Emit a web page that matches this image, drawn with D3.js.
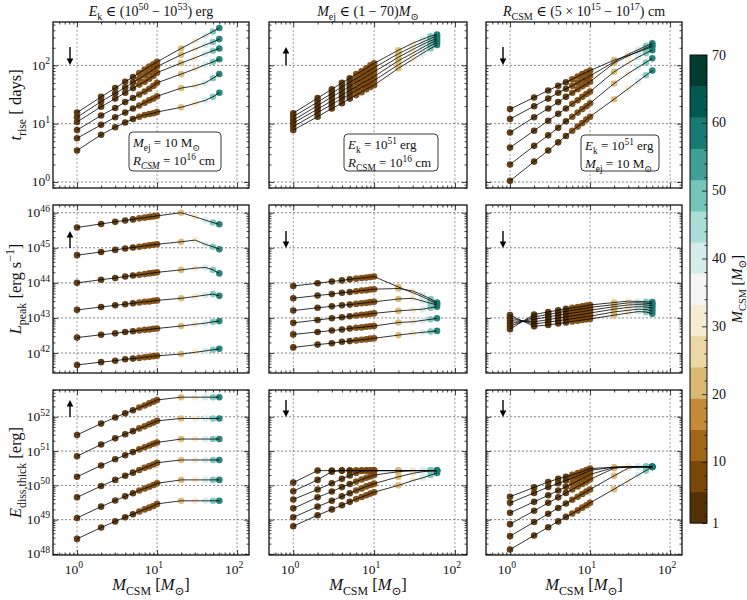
<!DOCTYPE html>
<html>
<head>
<meta charset="utf-8">
<script src="https://cdn.jsdelivr.net/npm/d3@7"></script>
<style>
body { margin: 0; background: #fff; }
svg text { font-family: "Liberation Serif", "DejaVu Serif", serif; fill: #111; white-space: pre; }
</style>
</head>
<body>
<div id="chart"></div>
<script>
const width = 747;
const height = 600;

// CSM masses of the models (x values)
const mcsm = [1, 2, 3, 4, 5, 6, 7, 8, 9, 10, 20, 30, 40, 50, 60];

// all values below are log10 of the plotted quantity, one row per model line
// t_rise [days]
const tRiseEk = [
  [1.19, 1.46, 1.61, 1.72, 1.80, 1.87, 1.93, 1.98, 2.02, 2.06, 2.29, 2.42, 2.51, 2.58, 2.64],
  [1.11, 1.38, 1.52, 1.62, 1.71, 1.77, 1.83, 1.88, 1.93, 1.98, 2.18, 2.28, 2.35, 2.40, 2.45],
  [1.03, 1.29, 1.43, 1.53, 1.61, 1.67, 1.72, 1.77, 1.82, 1.875, 2.04, 2.13, 2.20, 2.25, 2.29],
  [0.89, 1.14, 1.27, 1.37, 1.44, 1.50, 1.55, 1.60, 1.65, 1.70, 1.85, 1.94, 2.01, 2.06, 2.105],
  [0.75, 0.98, 1.11, 1.19, 1.26, 1.31, 1.36, 1.40, 1.43, 1.47, 1.61, 1.65, 1.70, 1.78, 1.85],
  [0.54, 0.81, 0.94, 1.02, 1.08, 1.12, 1.15, 1.165, 1.18, 1.20, 1.28, 1.35, 1.40, 1.46, 1.53]
];
const tRiseMej = [
  [1.18, 1.44, 1.59, 1.70, 1.78, 1.85, 1.90, 1.95, 2.00, 2.035, 2.26, 2.38, 2.45, 2.50, 2.53],
  [1.12, 1.37, 1.52, 1.63, 1.71, 1.77, 1.83, 1.88, 1.92, 1.96, 2.20, 2.32, 2.40, 2.46, 2.50],
  [1.06, 1.31, 1.46, 1.56, 1.64, 1.71, 1.76, 1.81, 1.85, 1.89, 2.14, 2.27, 2.36, 2.42, 2.46],
  [1.01, 1.25, 1.39, 1.49, 1.57, 1.63, 1.69, 1.73, 1.77, 1.81, 2.08, 2.21, 2.31, 2.38, 2.43],
  [0.95, 1.19, 1.33, 1.43, 1.50, 1.57, 1.62, 1.66, 1.70, 1.74, 2.01, 2.16, 2.26, 2.34, 2.39],
  [0.89, 1.12, 1.26, 1.35, 1.43, 1.49, 1.54, 1.59, 1.63, 1.66, 1.95, 2.10, 2.21, 2.29, 2.35]
];
const tRiseRcsm = [
  [1.25, 1.45, 1.57, 1.65, 1.71, 1.76, 1.81, 1.85, 1.88, 1.91, 2.09, 2.17, 2.23, 2.28, 2.32],
  [1.08, 1.30, 1.43, 1.53, 1.60, 1.65, 1.70, 1.75, 1.78, 1.82, 2.06, 2.19, 2.27, 2.33, 2.38],
  [0.85, 1.11, 1.26, 1.37, 1.46, 1.53, 1.59, 1.64, 1.68, 1.72, 2.04, 2.16, 2.24, 2.30, 2.35],
  [0.59, 0.88, 1.05, 1.17, 1.26, 1.34, 1.40, 1.46, 1.51, 1.55, 1.89, 2.04, 2.14, 2.21, 2.26],
  [0.30, 0.62, 0.80, 0.93, 1.04, 1.12, 1.19, 1.25, 1.30, 1.35, 1.69, 1.86, 1.97, 2.05, 2.12],
  [0.02, 0.35, 0.54, 0.68, 0.79, 0.88, 0.95, 1.01, 1.07, 1.12, 1.42, 1.60, 1.73, 1.83, 1.91]
];
// L_peak [erg/s]
const lPeakEk = [
  [45.58, 45.68, 45.74, 45.78, 45.81, 45.84, 45.86, 45.88, 45.895, 45.91, 46.00, 45.88, 45.79, 45.72, 45.67],
  [44.79, 44.88, 44.94, 44.98, 45.01, 45.03, 45.05, 45.07, 45.085, 45.10, 45.17, 45.22, 45.10, 45.03, 44.96],
  [44.00, 44.09, 44.14, 44.18, 44.21, 44.23, 44.25, 44.27, 44.285, 44.30, 44.37, 44.42, 44.44, 44.37, 44.27],
  [43.23, 43.31, 43.36, 43.39, 43.42, 43.44, 43.46, 43.47, 43.49, 43.50, 43.56, 43.61, 43.65, 43.68, 43.63],
  [42.44, 42.52, 42.56, 42.60, 42.62, 42.64, 42.66, 42.67, 42.69, 42.70, 42.77, 42.82, 42.85, 42.89, 42.91],
  [41.66, 41.74, 41.78, 41.82, 41.84, 41.86, 41.88, 41.89, 41.91, 41.92, 41.97, 42.02, 42.06, 42.09, 42.12]
];
const lPeakMej = [
  [43.91, 43.99, 44.04, 44.07, 44.10, 44.12, 44.14, 44.15, 44.165, 44.18, 43.88, 43.72, 43.60, 43.49, 43.41],
  [43.56, 43.64, 43.68, 43.72, 43.74, 43.76, 43.78, 43.79, 43.81, 43.82, 43.84, 43.77, 43.65, 43.54, 43.44],
  [43.21, 43.29, 43.33, 43.36, 43.38, 43.40, 43.42, 43.43, 43.45, 43.46, 43.54, 43.56, 43.48, 43.42, 43.37],
  [42.86, 42.94, 42.99, 43.02, 43.05, 43.07, 43.09, 43.10, 43.12, 43.13, 43.20, 43.23, 43.25, 43.29, 43.32],
  [42.53, 42.60, 42.64, 42.67, 42.70, 42.72, 42.73, 42.75, 42.76, 42.77, 42.87, 42.89, 42.93, 42.96, 42.99],
  [42.16, 42.24, 42.28, 42.32, 42.34, 42.36, 42.38, 42.39, 42.41, 42.42, 42.51, 42.56, 42.59, 42.61, 42.63]
];
const lPeakRcsm = [
  [42.68, 43.10, 43.17, 43.22, 43.26, 43.29, 43.31, 43.33, 43.35, 43.37, 43.44, 43.48, 43.47, 43.46, 43.45],
  [42.76, 43.03, 43.10, 43.15, 43.19, 43.22, 43.24, 43.26, 43.28, 43.30, 43.38, 43.43, 43.43, 43.42, 43.40],
  [42.84, 42.96, 43.03, 43.08, 43.11, 43.14, 43.16, 43.18, 43.20, 43.22, 43.32, 43.37, 43.38, 43.37, 43.35],
  [42.92, 42.89, 42.95, 43.00, 43.03, 43.06, 43.08, 43.10, 43.12, 43.14, 43.25, 43.30, 43.32, 43.31, 43.28],
  [43.00, 42.83, 42.88, 42.92, 42.95, 42.98, 43.00, 43.02, 43.04, 43.05, 43.17, 43.22, 43.25, 43.24, 43.20],
  [43.08, 42.76, 42.80, 42.84, 42.87, 42.90, 42.92, 42.94, 42.96, 42.97, 43.08, 43.14, 43.18, 43.17, 43.12]
];
// E_diss,thick [erg]
const eDissEk = [
  [51.47, 51.80, 51.98, 52.10, 52.19, 52.27, 52.33, 52.39, 52.44, 52.49, 52.57, 52.57, 52.57, 52.57, 52.57],
  [50.85, 51.19, 51.37, 51.49, 51.58, 51.66, 51.72, 51.78, 51.83, 51.88, 51.95, 51.95, 51.95, 51.95, 51.95],
  [50.25, 50.58, 50.76, 50.88, 50.97, 51.05, 51.11, 51.16, 51.21, 51.25, 51.35, 51.35, 51.35, 51.35, 51.35],
  [49.65, 49.98, 50.16, 50.28, 50.37, 50.45, 50.51, 50.56, 50.61, 50.66, 50.74, 50.74, 50.74, 50.74, 50.74],
  [49.05, 49.38, 49.56, 49.68, 49.77, 49.85, 49.91, 49.96, 50.01, 50.06, 50.16, 50.16, 50.16, 50.16, 50.16],
  [48.44, 48.77, 48.95, 49.07, 49.16, 49.24, 49.30, 49.35, 49.40, 49.46, 49.55, 49.55, 49.55, 49.55, 49.55]
];
const eDissMej = [
  [50.08, 50.43, 50.43, 50.43, 50.43, 50.43, 50.43, 50.43, 50.43, 50.43, 50.43, 50.43, 50.43, 50.43, 50.43],
  [49.83, 50.16, 50.40, 50.43, 50.43, 50.43, 50.43, 50.43, 50.43, 50.43, 50.43, 50.43, 50.43, 50.43, 50.43],
  [49.59, 49.88, 50.06, 50.19, 50.29, 50.36, 50.42, 50.43, 50.43, 50.43, 50.43, 50.43, 50.43, 50.43, 50.43],
  [49.33, 49.65, 49.82, 49.95, 50.04, 50.11, 50.17, 50.22, 50.26, 50.30, 50.40, 50.43, 50.43, 50.43, 50.43],
  [49.07, 49.38, 49.55, 49.68, 49.77, 49.85, 49.91, 49.97, 50.01, 50.05, 50.25, 50.35, 50.40, 50.42, 50.43],
  [48.81, 49.13, 49.30, 49.42, 49.52, 49.60, 49.66, 49.71, 49.76, 49.80, 50.00, 50.14, 50.22, 50.30, 50.36]
];
const eDissRcsm = [
  [49.67, 49.94, 50.10, 50.19, 50.25, 50.31, 50.36, 50.40, 50.45, 50.49, 50.53, 50.54, 50.54, 50.54, 50.54],
  [49.49, 49.78, 49.95, 50.06, 50.14, 50.21, 50.27, 50.33, 50.38, 50.44, 50.53, 50.54, 50.54, 50.54, 50.54],
  [49.20, 49.52, 49.71, 49.85, 49.96, 50.05, 50.13, 50.20, 50.26, 50.32, 50.52, 50.54, 50.54, 50.54, 50.54],
  [48.87, 49.26, 49.49, 49.65, 49.78, 49.88, 49.97, 50.04, 50.11, 50.175, 50.50, 50.54, 50.54, 50.54, 50.54],
  [48.52, 48.93, 49.17, 49.34, 49.47, 49.58, 49.67, 49.75, 49.82, 49.88, 50.28, 50.50, 50.54, 50.54, 50.54],
  [48.13, 48.54, 48.78, 48.95, 49.08, 49.18, 49.27, 49.35, 49.42, 49.49, 49.89, 50.13, 50.30, 50.43, 50.54]
];

// axis ticks (exponents of 10)
const xTickExp = [0, 1, 2];
const yTickExp = [[0, 1, 2], [42, 43, 44, 45, 46], [48, 49, 50, 51, 52]];
const cbTicks = [1, 10, 20, 30, 40, 50, 60, 70];

// BrBG, 15 discrete levels between 1 and 70
const brbg = ["#543005", "#8c510a", "#bf812d", "#dfc27d", "#f6e8c3", "#f5f5f5",
              "#c7eae5", "#80cdc1", "#35978f", "#01665e", "#003c30"];
const nLevels = 15;
const cmap = d3.scaleLinear().domain(d3.range(11).map(i => i / 10)).range(brbg).interpolate(d3.interpolateRgb);
const levelColors = d3.range(nLevels).map(i => cmap(i / (nLevels - 1)));
const cmin = 1, cmax = 70;
function colorFor(m) {
  const i = Math.min(nLevels - 1, Math.floor((m - cmin) / (cmax - cmin) * nLevels));
  return levelColors[i];
}

const serif = "'Liberation Serif', 'DejaVu Serif', serif";
const svg = d3.select("#chart").append("svg")
  .attr("width", width)
  .attr("height", height)
  .attr("font-family", serif);

// small helper for math-like labels: [text, kind] with kind in "", i, sub, isub, sup
function rich(t, parts, fs) {
  let shift = 0;
  t.attr("font-family", serif).attr("font-size", fs);
  parts.forEach(([s, k]) => {
    const ts = t.append("tspan").text(s);
    let target = 0, size = fs;
    if (k === "sub" || k === "isub") { target = fs * 0.3; size = fs * 0.72; }
    if (k === "sup") { target = -fs * 0.42; size = fs * 0.72; }
    ts.attr("dy", target - shift).attr("font-size", size);
    if (k === "i" || k === "isub") ts.attr("font-style", "italic");
    shift = target;
  });
  return t;
}

const cols = [[53, 249], [269, 467], [486, 682]];
const rows = [[22, 188], [205, 373], [390, 555]];
const yDomains = [[0.789, 554], [Math.pow(10, 41.43), Math.pow(10, 46.22)], [Math.pow(10, 47.97), Math.pow(10, 52.78)]];
const arrowY = [[47, 65], [231, 248], [400, 417]];

const titles = [
  [["E", "i"], ["k", "sub"], [" ∈ (10", ""], ["50", "sup"], [" − 10", ""], ["53", "sup"], [") erg", ""]],
  [["M", "i"], ["ej", "sub"], [" ∈ (1 − 70)", ""], ["M", "i"], ["⊙", "sub"]],
  [["R", "i"], ["CSM", "sub"], [" ∈ (5 × 10", ""], ["15", "sup"], [" − 10", ""], ["17", "sup"], [") cm", ""]]
];
const yLabels = [
  [["t", "i"], ["rise", "sub"], [" [ days]", ""]],
  [["L", "i"], ["peak", "sub"], [" [erg s", ""], ["−1", "sup"], ["]", ""]],
  [["E", "i"], ["diss,thick", "sub"], [" [erg]", ""]]
];
const xLabel = [["M", "i"], ["CSM", "sub"], [" [", ""], ["M", "i"], ["⊙", "sub"], ["]", ""]];

const panels = [
  { r: 0, c: 0, data: tRiseEk, dir: "down",
    box: { x: 76, y: 110, w: 92, h: 39, lines: [
      [["M", "i"], ["ej", "sub"], [" = 10 M", ""], ["⊙", "sub"]],
      [["R", "i"], ["CSM", "isub"], [" = 10", ""], ["16", "sup"], [" cm", ""]]] } },
  { r: 0, c: 1, data: tRiseMej, dir: "up",
    box: { x: 75, y: 112, w: 94, h: 37, lines: [
      [["E", "i"], ["k", "sub"], [" = 10", ""], ["51", "sup"], [" erg", ""]],
      [["R", "i"], ["CSM", "sub"], [" = 10", ""], ["16", "sup"], [" cm", ""]]] } },
  { r: 0, c: 2, data: tRiseRcsm, dir: "down",
    box: { x: 95, y: 113, w: 78, h: 36, lines: [
      [["E", "i"], ["k", "sub"], [" = 10", ""], ["51", "sup"], [" erg", ""]],
      [["M", "i"], ["ej", "sub"], [" = 10 M", ""], ["⊙", "sub"]]] } },
  { r: 1, c: 0, data: lPeakEk, dir: "up" },
  { r: 1, c: 1, data: lPeakMej, dir: "down" },
  { r: 1, c: 2, data: lPeakRcsm, dir: "down" },
  { r: 2, c: 0, data: eDissEk, dir: "up" },
  { r: 2, c: 1, data: eDissMej, dir: "down" },
  { r: 2, c: 2, data: eDissRcsm, dir: "down" }
];

function logMinors(lo, hi) {
  const out = [];
  for (let e = Math.floor(Math.log10(lo)) - 1; e <= Math.ceil(Math.log10(hi)); e++) {
    for (let k = 2; k <= 9; k++) {
      const v = k * Math.pow(10, e);
      if (v > lo * 1.001 && v < hi / 1.001) out.push(v);
    }
  }
  return out;
}

panels.forEach((p, idx) => {
  const [x0, x1] = cols[p.c];
  const [y0, y1] = rows[p.r];
  const x = d3.scaleLog().domain([0.501, 141]).range([x0, x1]);
  const y = d3.scaleLog().domain(yDomains[p.r]).range([y1, y0]);
  const g = svg.append("g");

  g.append("clipPath").attr("id", "clip" + idx)
    .append("rect").attr("x", x0).attr("y", y0).attr("width", x1 - x0).attr("height", y1 - y0);

  const xMaj = xTickExp.map(e => Math.pow(10, e));
  const yMaj = yTickExp[p.r].map(e => Math.pow(10, e));

  // grid
  g.selectAll(".gx").data(xMaj).enter().append("line")
    .attr("x1", d => x(d)).attr("x2", d => x(d)).attr("y1", y0).attr("y2", y1)
    .attr("stroke", "#777").attr("stroke-width", 0.7).attr("stroke-dasharray", "2.2,1.8");
  g.selectAll(".gy").data(yMaj).enter().append("line")
    .attr("x1", x0).attr("x2", x1).attr("y1", d => y(d)).attr("y2", d => y(d))
    .attr("stroke", "#555").attr("stroke-width", 0.7).attr("stroke-dasharray", "2.2,1.8");

  // inward ticks on all four sides
  const xMin = logMinors(0.501, 141), yMin = logMinors(yDomains[p.r][0], yDomains[p.r][1]);
  g.append("g").attr("transform", `translate(0,${y1})`)
    .call(d3.axisBottom(x).tickValues(xMaj).tickSize(-5).tickFormat(""));
  g.append("g").attr("transform", `translate(0,${y1})`)
    .call(d3.axisBottom(x).tickValues(xMin).tickSize(-2.5).tickFormat(""));
  g.append("g").attr("transform", `translate(0,${y0})`)
    .call(d3.axisTop(x).tickValues(xMaj).tickSize(-5).tickFormat(""));
  g.append("g").attr("transform", `translate(0,${y0})`)
    .call(d3.axisTop(x).tickValues(xMin).tickSize(-2.5).tickFormat(""));
  g.append("g").attr("transform", `translate(${x0},0)`)
    .call(d3.axisLeft(y).tickValues(yMaj).tickSize(-5).tickFormat(""));
  g.append("g").attr("transform", `translate(${x0},0)`)
    .call(d3.axisLeft(y).tickValues(yMin).tickSize(-2.5).tickFormat(""));
  g.append("g").attr("transform", `translate(${x1},0)`)
    .call(d3.axisRight(y).tickValues(yMaj).tickSize(-5).tickFormat(""));
  g.append("g").attr("transform", `translate(${x1},0)`)
    .call(d3.axisRight(y).tickValues(yMin).tickSize(-2.5).tickFormat(""));
  g.selectAll(".domain").remove();
  g.selectAll(".tick line").attr("stroke", "#111").attr("stroke-width", 0.8);

  // data
  const plot = g.append("g").attr("clip-path", `url(#clip${idx})`);
  p.data.forEach(series => {
    const pts = series.map((v, i) => [mcsm[i], Math.pow(10, v)]);
    plot.append("g").selectAll("circle").data(pts).enter().append("circle")
      .attr("cx", d => x(d[0])).attr("cy", d => y(d[1])).attr("r", 3.3)
      .attr("fill", d => colorFor(d[0])).attr("fill-opacity", 0.92);
  });
  const line = d3.line().x(d => x(d[0])).y(d => y(d[1]));
  p.data.forEach(series => {
    const pts = series.map((v, i) => [mcsm[i], Math.pow(10, v)]);
    plot.append("path").attr("d", line(pts))
      .attr("fill", "none").attr("stroke", "#000").attr("stroke-width", 0.8);
  });

  // frame
  g.append("rect").attr("x", x0).attr("y", y0).attr("width", x1 - x0).attr("height", y1 - y0)
    .attr("fill", "none").attr("stroke", "#111").attr("stroke-width", 1.3);

  // arrow
  const ax = x0 + 17;
  const [ya, yb] = arrowY[p.r];
  const tail = p.dir === "down" ? ya : yb, head = p.dir === "down" ? yb : ya;
  const s = p.dir === "down" ? 1 : -1;
  g.append("line").attr("x1", ax).attr("x2", ax).attr("y1", tail).attr("y2", head - s * 5)
    .attr("stroke", "#000").attr("stroke-width", 1.4);
  g.append("path")
    .attr("d", `M${ax - 3.3},${head - s * 6.5}L${ax + 3.3},${head - s * 6.5}L${ax},${head}Z`)
    .attr("fill", "#000");

  // annotation box
  if (p.box) {
    const b = p.box;
    g.append("rect").attr("x", x0 + b.x).attr("y", y0 + b.y).attr("width", b.w).attr("height", b.h)
      .attr("rx", 4).attr("fill", "#fff").attr("stroke", "#222").attr("stroke-width", 0.9);
    b.lines.forEach((ln, k) => {
      rich(g.append("text").attr("x", x0 + b.x + 4).attr("y", y0 + b.y + 15 + k * 18), ln, 13);
    });
  }

  // tick labels
  if (p.c === 0) {
    yTickExp[p.r].forEach(e => {
      rich(g.append("text").attr("x", x0 - 3).attr("y", y(Math.pow(10, e)) + 4.5)
        .attr("text-anchor", "end"), [["10", ""], [String(e), "sup"]], 13.5);
    });
    rich(svg.append("text").attr("text-anchor", "middle")
      .attr("transform", `translate(21,${(y0 + y1) / 2}) rotate(-90)`), yLabels[p.r], 16.5);
  }
  if (p.r === 2) {
    xTickExp.forEach(e => {
      rich(g.append("text").attr("x", x(Math.pow(10, e)) - 3).attr("y", y1 + 19)
        .attr("text-anchor", "middle"), [["10", ""], [String(e), "sup"]], 13.5);
    });
    rich(svg.append("text").attr("text-anchor", "middle")
      .attr("x", (x0 + x1) / 2).attr("y", 590), xLabel, 16.5);
  }
  if (p.r === 0) {
    rich(svg.append("text").attr("text-anchor", "middle")
      .attr("x", (x0 + x1) / 2).attr("y", 16), titles[p.c], 14);
  }
});

// colorbar
const cbX = 690, cbW = 17, cbTop = 55, cbBot = 523;
const cb = d3.scaleLinear().domain([cmin, cmax]).range([cbBot, cbTop]);
const cbg = svg.append("g");
cbg.selectAll("rect.band").data(levelColors).enter().append("rect")
  .attr("x", cbX).attr("width", cbW)
  .attr("y", (d, i) => cb(cmin + (i + 1) * (cmax - cmin) / nLevels))
  .attr("height", (cbBot - cbTop) / nLevels + 0.4)
  .attr("fill", d => d);
const cbMinor = d3.range(2, 70, 2).filter(v => !cbTicks.includes(v));
cbg.append("g").attr("transform", `translate(${cbX + cbW},0)`)
  .call(d3.axisRight(cb).tickValues(cbMinor).tickSize(-2.5).tickFormat(""));
cbg.append("g").attr("transform", `translate(${cbX + cbW},0)`)
  .call(d3.axisRight(cb).tickValues(cbTicks).tickSize(-5).tickFormat(""));
cbg.selectAll(".domain").remove();
cbg.selectAll(".tick line").attr("stroke", "#111").attr("stroke-width", 0.8);
cbg.append("rect").attr("x", cbX).attr("y", cbTop).attr("width", cbW).attr("height", cbBot - cbTop)
  .attr("fill", "none").attr("stroke", "#111").attr("stroke-width", 1);
cbTicks.forEach(v => {
  cbg.append("text").attr("x", cbX + cbW + 5).attr("y", cb(v) + 4.5)
    .attr("font-family", serif).attr("font-size", 14).text(String(v));
});
rich(svg.append("text").attr("text-anchor", "middle")
  .attr("transform", `translate(742,${(cbTop + cbBot) / 2}) rotate(-90)`), xLabel, 14.5);
</script>
</body>
</html>
